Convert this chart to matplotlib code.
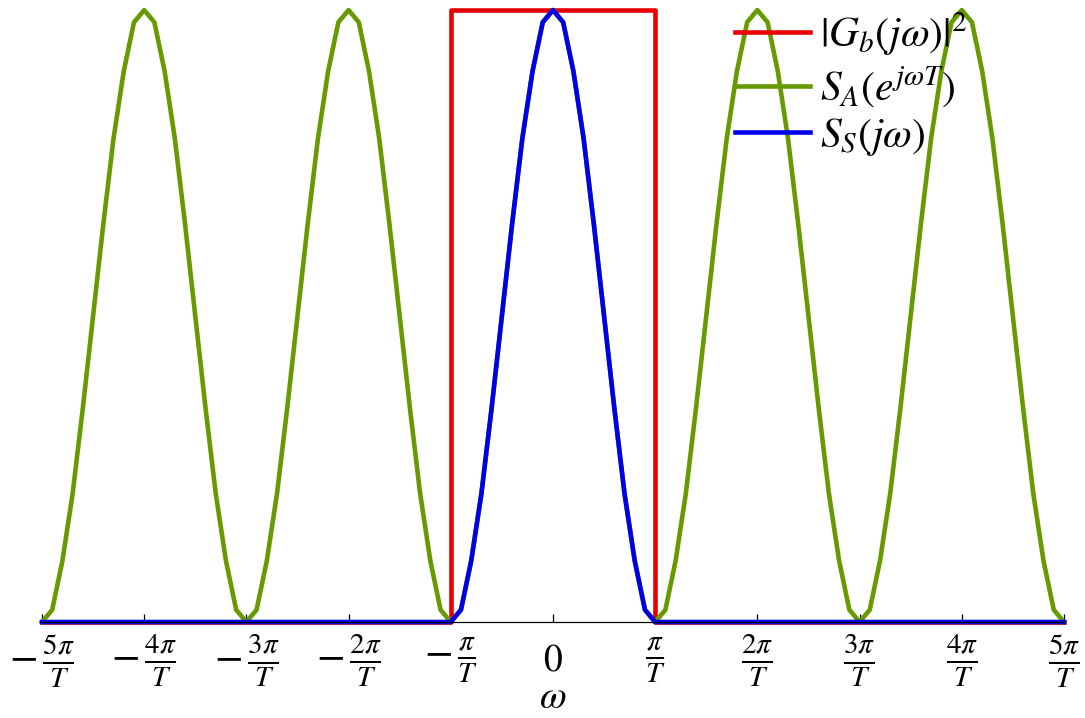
import numpy as np
import matplotlib.pyplot as plt

plt.rcParams['mathtext.fontset'] = 'stix'
plt.rcParams['font.family'] = ['STIXGeneral', 'DejaVu Serif']

period_vals = [0.0, 0.02, 0.10, 0.21, 0.35, 0.50, 0.65, 0.79, 0.90, 0.98, 1.0,
               0.98, 0.90, 0.79, 0.65, 0.50, 0.35, 0.21, 0.10, 0.02]
n_periods = 5

# ideal lowpass |G_b|^2 corners (in multiples of pi/T)
gb_x = [-5, -1, -1, 1, 1, 5]
gb_y = [0, 0, 1, 1, 0, 0]

tick_mult = [-5, -4, -3, -2, -1, 0, 1, 2, 3, 4, 5]
tick_labels = [r'$-\,\frac{5\pi}{T}$', r'$-\,\frac{4\pi}{T}$', r'$-\,\frac{3\pi}{T}$',
               r'$-\,\frac{2\pi}{T}$', r'$-\,\frac{\pi}{T}$', r'$0$', r'$\frac{\pi}{T}$',
               r'$\frac{2\pi}{T}$', r'$\frac{3\pi}{T}$', r'$\frac{4\pi}{T}$',
               r'$\frac{5\pi}{T}$']

sa = np.array(period_vals * n_periods + [0.0])
w = np.linspace(-5 * np.pi, 5 * np.pi, len(sa))
ss = np.where(np.abs(w) <= np.pi + 1e-9, sa, 0.0)

fig = plt.figure(figsize=(10.85, 7.18), dpi=100)
ax = fig.add_axes([0.0387, 0.1337, 0.9419, 0.8523])

lw = 3.3
ax.plot(np.array(gb_x) * np.pi, gb_y, color='#e80000', lw=lw, clip_on=False,
        label=r'$|G_b(j\omega)|^2$')
ax.plot(w, sa, color='#669a00', lw=lw, clip_on=False, label=r'$S_A(e^{j\omega T})$')
ax.plot(w, ss, color='#0000e8', lw=lw, clip_on=False, label=r'$S_S(j\omega)$')

ax.set_xlim(-5 * np.pi, 5 * np.pi)
ax.set_ylim(0, 1)
for s in ['top', 'right', 'left']:
    ax.spines[s].set_visible(False)
ax.spines['bottom'].set_linewidth(0.9)
ax.set_yticks([])
ax.set_xticks(np.array(tick_mult) * np.pi)
ax.set_xticklabels(tick_labels, fontsize=30, va='center')
for lab in ax.get_xticklabels():
    if lab.get_text() == '$0$':
        lab.set_fontsize(27)
ax.tick_params(axis='x', direction='in', length=6, width=0.9, pad=28)
ax.set_xlabel(r'$\omega$', fontsize=28, labelpad=-6)

ax.legend(loc='upper left', bbox_to_anchor=(0.678, 1.0), frameon=False,
          fontsize=30, handlelength=1.8, handletextpad=0.25, labelspacing=0.15,
          borderaxespad=0, borderpad=0)

fig.savefig('out.png', dpi=100)
